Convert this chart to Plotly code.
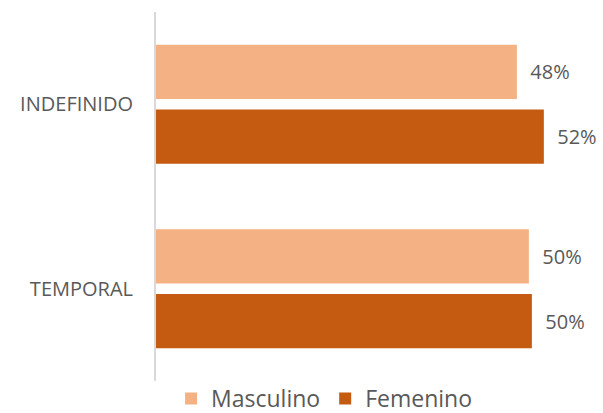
import plotly.graph_objects as go

categories = ["INDEFINIDO", "TEMPORAL"]
masculino = [48.2, 49.8]
femenino = [51.8, 50.2]
masc_labels = ["48%", "50%"]
fem_labels = ["52%", "50%"]

FONT = "Open Sans"
GREY = "#595959"

fig = go.Figure()
fig.add_trace(go.Bar(
    y=categories, x=masculino, name="Masculino", orientation="h",
    marker=dict(color="#F4B183", line=dict(width=0)),
    text=["  " + t for t in masc_labels], textposition="outside",
    textfont=dict(size=20, color=GREY, family=FONT),
    cliponaxis=False,
))
fig.add_trace(go.Bar(
    y=categories, x=femenino, name="Femenino", orientation="h",
    marker=dict(color="#C55A11", line=dict(width=0)),
    text=["  " + t for t in fem_labels], textposition="outside",
    textfont=dict(size=20, color=GREY, family=FONT),
    cliponaxis=False,
))

fig.update_layout(
    width=603, height=413,
    margin=dict(l=156, r=0, t=12, b=31.5, autoexpand=False),
    paper_bgcolor="white", plot_bgcolor="white",
    barmode="group", bargap=0.30, bargroupgap=0.16,
    font=dict(family=FONT, color=GREY),
    showlegend=True,
    legend=dict(orientation="h", x=0.376, xanchor="center",
                yref="container", y=0.035, yanchor="middle",
                font=dict(size=23, color=GREY, family=FONT), traceorder="normal",
                itemwidth=30),
    uniformtext=dict(mode=False),
)
fig.update_xaxes(range=[0, 59.7], visible=False, fixedrange=True, automargin=False)
fig.update_yaxes(autorange="reversed", showline=True, linecolor="#D9D9D9", linewidth=2,
                 ticks="", showgrid=False, tickfont=dict(size=20, color=GREY, family=FONT),
                 ticklabelstandoff=17, automargin=False)

fig.write_html("out.html", config={"displayModeBar": False},
               post_script="document.body.style.margin='0';")
